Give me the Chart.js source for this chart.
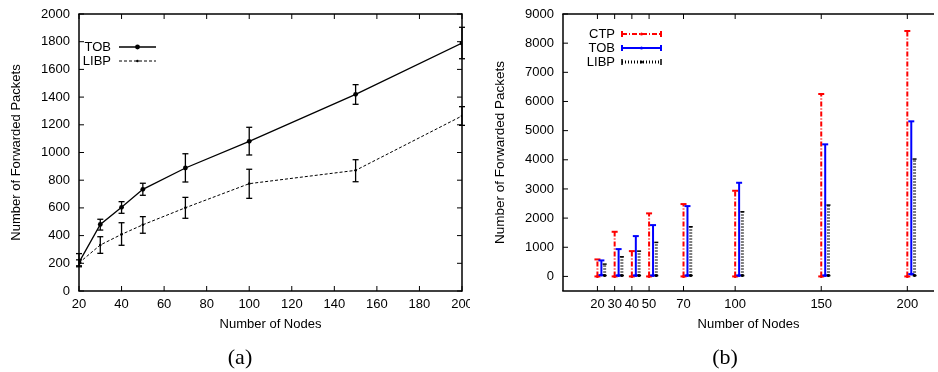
<!DOCTYPE html>
<html>
<head>
<meta charset="utf-8">
<script src="https://cdn.jsdelivr.net/npm/chart.js@4.4.1/dist/chart.umd.min.js"></script>
<style>
    body { margin: 0; background: #fff; overflow: hidden; }
    #wrap { position: relative; width: 938px; height: 372px; }
    canvas { position: absolute; top: 0; }
    .cap {
        position: absolute; top: 345px; transform: translateX(-50%);
        font: 22px "Liberation Serif", "Times New Roman", serif; line-height: 24px; color: #000;
    }
</style>
</head>
<body>
<div id="wrap">
    <canvas id="chartA" width="470" height="372" style="left:0"></canvas>
    <canvas id="chartB" width="468" height="372" style="left:470px"></canvas>
    <div class="cap" style="left:240px">(a)</div>
    <div class="cap" style="left:725px">(b)</div>
</div>
<script>
// Shared x values
const nodes = [20, 30, 40, 50, 70, 100, 150, 200];

// (a) mean forwarded packets and error range
const tobAvg  = [207, 481, 604, 734, 888, 1081, 1420, 1790];
const tobLo   = [175, 440, 561, 691, 787, 982, 1348, 1677];
const tobHi   = [270, 518, 645, 778, 991, 1182, 1490, 1904];
const libpAvg = [203, 332, 409, 478, 601, 775, 871, 1264];
const libpLo  = [182, 272, 330, 417, 525, 669, 789, 1196];
const libpHi  = [225, 392, 493, 537, 676, 879, 948, 1331];
const xTicksA = [20, 40, 60, 80, 100, 120, 140, 160, 180, 200];
const yTicksA = [0, 200, 400, 600, 800, 1000, 1200, 1400, 1600, 1800, 2000];

// (b) min / max forwarded packets per protocol
const ctpMin  = [0, 0, 0, 0, 0, 0, 0, 0];
const ctpMax  = [583, 1531, 868, 2162, 2481, 2938, 6256, 8418];
const tobMin  = [45, 35, 35, 35, 35, 35, 35, 79];
const tobMax  = [549, 937, 1383, 1760, 2412, 3212, 4530, 5319];
const libpMin = [30, 30, 30, 30, 30, 30, 30, 30];
const libpMax = [422, 673, 868, 1167, 1703, 2217, 2447, 4025];
const xTicksB = [20, 30, 40, 50, 70, 100, 150, 200];
const yTicksB = [0, 1000, 2000, 3000, 4000, 5000, 6000, 7000, 8000, 9000];

const FONT = '"Liberation Sans", Arial, Helvetica, sans-serif';
Chart.defaults.font.family = FONT;
Chart.defaults.font.size = 13;
Chart.defaults.color = '#000';

function line(ctx, x1, y1, x2, y2) {
    ctx.beginPath();
    ctx.moveTo(x1, y1);
    ctx.lineTo(x2, y2);
    ctx.stroke();
}

// Border box with inward gnuplot style ticks
const frameTicks = {
    id: 'frameTicks',
    afterDraw(chart, args, opts) {
        const { ctx, chartArea: a, scales: { x, y } } = chart;
        const len = 5;
        ctx.save();
        ctx.strokeStyle = '#000';
        ctx.lineWidth = 1;
        x.ticks.forEach(t => {
            const px = x.getPixelForValue(t.value);
            line(ctx, px, a.bottom, px, a.bottom - len);
            line(ctx, px, a.top, px, a.top + len);
        });
        y.ticks.forEach(t => {
            const py = y.getPixelForValue(t.value);
            line(ctx, a.left, py, a.left + len, py);
            if (opts.right) line(ctx, a.right, py, a.right - len, py);
        });
        ctx.lineWidth = 1.5;
        line(ctx, a.left, a.top, a.left, a.bottom);
        line(ctx, a.left - 0.75, a.bottom, a.right, a.bottom);
        line(ctx, a.left - 0.75, a.top, a.right, a.top);
        if (opts.right) line(ctx, a.right, a.top - 0.75, a.right, a.bottom + 0.75);
        ctx.restore();
    }
};

// Vertical error bars from each dataset's lo / hi arrays
const errorBars = {
    id: 'errorBars',
    beforeDatasetsDraw(chart) {
        const { ctx, scales: { y } } = chart;
        chart.data.datasets.forEach((ds, i) => {
            if (!ds.lo) return;
            const meta = chart.getDatasetMeta(i);
            ctx.save();
            ctx.strokeStyle = ds.barColor;
            meta.data.forEach((pt, j) => {
                const y1 = y.getPixelForValue(ds.lo[j]);
                const y2 = y.getPixelForValue(ds.hi[j]);
                ctx.lineWidth = ds.barWidth;
                ctx.setLineDash(ds.barDash || []);
                line(ctx, pt.x, y1, pt.x, y2);
                ctx.setLineDash([]);
                ctx.lineWidth = ds.capWidth;
                line(ctx, pt.x - ds.cap, y1, pt.x + ds.cap, y1);
                line(ctx, pt.x - ds.cap, y2, pt.x + ds.cap, y2);
            });
            ctx.restore();
        });
    }
};

// Key in gnuplot layout: label right aligned, sample on its right
const keyBox = {
    id: 'keyBox',
    afterDraw(chart, args, opts) {
        const ctx = chart.ctx;
        ctx.save();
        ctx.font = '13px ' + FONT;
        ctx.textAlign = 'right';
        ctx.textBaseline = 'middle';
        chart.data.datasets.forEach((ds, i) => {
            const y = opts.y + i * opts.step;
            const x1 = opts.x + opts.gap, x2 = x1 + opts.len;
            ctx.fillStyle = '#000';
            ctx.fillText(ds.label, opts.x, y);
            ctx.strokeStyle = ds.barColor || ds.borderColor;
            ctx.lineWidth = opts.bars ? ds.barWidth : ds.borderWidth;
            ctx.setLineDash((opts.bars ? ds.barDash : ds.borderDash) || []);
            line(ctx, x1, y, x2, y);
            ctx.setLineDash([]);
            if (opts.bars) {
                ctx.lineWidth = ds.capWidth;
                line(ctx, x1, y - 3, x1, y + 3);
                line(ctx, x2, y - 3, x2, y + 3);
            }
            if (ds.pointRadius > 0) {
                ctx.fillStyle = ds.pointBackgroundColor;
                ctx.beginPath();
                ctx.arc((x1 + x2) / 2, y, ds.pointRadius, 0, Math.PI * 2);
                ctx.fill();
            }
        });
        ctx.restore();
    }
};

function fixedAxis(size, horizontal) {
    return s => {
        if (horizontal) s.height = size; else s.width = size;
        s.paddingLeft = s.paddingRight = s.paddingTop = s.paddingBottom = 0;
    };
}

function setTicks(values) {
    return s => { s.ticks = values.map(v => ({ value: v })); };
}

const plain = v => String(v);

// Chart (a)
new Chart(document.getElementById('chartA'), {
    type: 'scatter',
    data: {
        datasets: [{
            label: 'TOB',
            data: nodes.map((n, i) => ({ x: n, y: tobAvg[i] })),
            lo: tobLo, hi: tobHi,
            showLine: true,
            borderColor: '#000', borderWidth: 1.3,
            pointRadius: 2.4, pointBackgroundColor: '#000', pointBorderWidth: 0,
            barColor: '#000', barWidth: 1.3, capWidth: 1.3, cap: 3
        }, {
            label: 'LIBP',
            data: nodes.map((n, i) => ({ x: n, y: libpAvg[i] })),
            lo: libpLo, hi: libpHi,
            showLine: true,
            borderColor: '#000', borderWidth: 1, borderDash: [3, 2],
            pointRadius: 1.3, pointBackgroundColor: '#000', pointBorderWidth: 0,
            barColor: '#000', barWidth: 1.3, capWidth: 1.3, cap: 3
        }]
    },
    options: {
        responsive: false,
        animation: false,
        devicePixelRatio: 1,
        layout: { padding: { left: 8, right: 8, top: 14, bottom: 31 } },
        scales: {
            x: {
                type: 'linear', min: 20, max: 200,
                afterBuildTicks: setTicks(xTicksA),
                afterFit: fixedAxis(50, true),
                grid: { display: false, drawTicks: false },
                border: { display: false },
                ticks: { padding: 6, autoSkip: false, maxRotation: 0, callback: plain },
                title: { display: true, text: 'Number of Nodes', font: { size: 13 }, padding: { top: 4, bottom: 9 } }
            },
            y: {
                min: 0, max: 2000,
                afterBuildTicks: setTicks(yTicksA),
                afterFit: fixedAxis(71, false),
                grid: { display: false, drawTicks: false },
                border: { display: false },
                ticks: { padding: 9, callback: plain },
                title: { display: true, text: 'Number of Forwarded Packets', font: { size: 13 }, padding: { top: 1, bottom: 4 } }
            }
        },
        plugins: {
            legend: { display: false },
            tooltip: { enabled: false },
            frameTicks: { right: true },
            keyBox: { x: 111, y: 47, step: 14, gap: 8, len: 37, bars: false }
        }
    },
    plugins: [errorBars, frameTicks, keyBox]
});

// Chart (b)
const offTob = 2.3, offLibp = 4.2;
new Chart(document.getElementById('chartB'), {
    type: 'scatter',
    data: {
        datasets: [{
            label: 'CTP',
            data: nodes.map((n, i) => ({ x: n, y: ctpMin[i] })),
            lo: ctpMin, hi: ctpMax,
            pointRadius: 1.5, pointBackgroundColor: '#ff0000', pointBorderWidth: 0,
            barColor: '#ff0000', barWidth: 2, barDash: [5, 2, 1, 2], capWidth: 2, cap: 3
        }, {
            label: 'TOB',
            data: nodes.map((n, i) => ({ x: n + offTob, y: tobMin[i] })),
            lo: tobMin, hi: tobMax,
            pointRadius: 1.5, pointBackgroundColor: '#0000ff', pointBorderWidth: 0,
            barColor: '#0000ff', barWidth: 2, capWidth: 2, cap: 3
        }, {
            label: 'LIBP',
            data: nodes.map((n, i) => ({ x: n + offLibp, y: libpMin[i] })),
            lo: libpMin, hi: libpMax,
            pointRadius: 1.5, pointBackgroundColor: '#000', pointBorderWidth: 0,
            barColor: '#000', barWidth: 3, barDash: [1, 2], capWidth: 1.5, cap: 2
        }]
    },
    options: {
        responsive: false,
        animation: false,
        devicePixelRatio: 1,
        layout: { padding: { left: 0, right: 0, top: 14, bottom: 31 } },
        scales: {
            x: {
                type: 'linear', min: 0, max: 215.5,
                afterBuildTicks: setTicks(xTicksB),
                afterFit: fixedAxis(50, true),
                grid: { display: false, drawTicks: false },
                border: { display: false },
                ticks: { padding: 6, autoSkip: false, maxRotation: 0, callback: plain },
                title: { display: true, text: 'Number of Nodes', font: { size: 13 }, padding: { top: 4, bottom: 9 } }
            },
            y: {
                min: -500, max: 9000,
                afterBuildTicks: setTicks(yTicksB),
                afterFit: fixedAxis(93, false),
                grid: { display: false, drawTicks: false },
                border: { display: false },
                ticks: { padding: 9, callback: plain },
                title: { display: true, text: 'Number of Forwarded Packets', font: { size: 13.5 }, padding: { top: 22, bottom: 4 } }
            }
        },
        plugins: {
            legend: { display: false },
            tooltip: { enabled: false },
            frameTicks: { right: false },
            keyBox: { x: 145, y: 34, step: 14, gap: 7, len: 39, bars: true }
        }
    },
    plugins: [errorBars, frameTicks, keyBox]
});
</script>
</body>
</html>
